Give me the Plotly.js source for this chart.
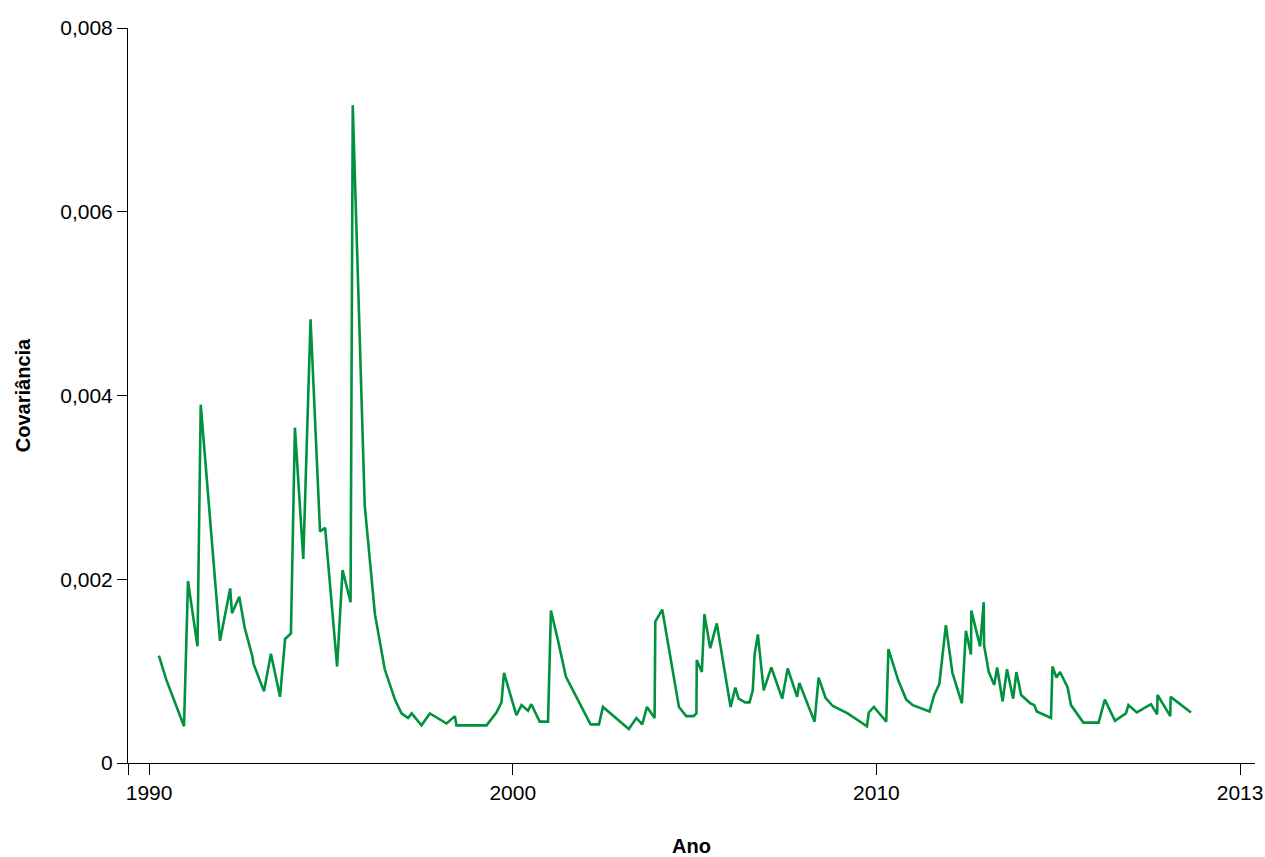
<!DOCTYPE html>
<html>
<head>
<meta charset="utf-8">
<script src="https://cdn.plot.ly/plotly-3.0.1.min.js"></script>
<style>
  html, body { margin: 0; padding: 0; background: #fff; }
  #chart { width: 1265px; height: 857px; }
</style>
</head>
<body>
<div id="chart"></div>
<script>
// Decimal year positions (axis is labelled 1990, 2000, 2010, 2013 at equal spacing)
const anos = [
  1990.27, 1990.47, 1990.96, 1991.07, 1991.33, 1991.42, 1991.95, 1992.23, 1992.28, 1992.48,
  1992.63, 1992.84, 1992.87, 1993.16, 1993.35, 1993.60, 1993.74, 1993.90, 1994.01, 1994.24,
  1994.44, 1994.70, 1994.84, 1995.17, 1995.32, 1995.54, 1995.60, 1995.93, 1996.21, 1996.48,
  1996.76, 1996.94, 1997.12, 1997.22, 1997.49, 1997.72, 1998.18, 1998.41, 1998.45, 1999.28,
  1999.55, 1999.69, 1999.76, 2000.10, 2000.24, 2000.42, 2000.51, 2000.74, 2000.97, 2001.05,
  2001.24, 2001.46, 2002.14, 2002.37, 2002.48, 2003.19, 2003.40, 2003.56, 2003.69, 2003.90,
  2003.92, 2004.11, 2004.57, 2004.77, 2004.97, 2005.05, 2005.06, 2005.20, 2005.27, 2005.43,
  2005.61, 2005.99, 2006.12, 2006.21, 2006.39, 2006.51, 2006.60, 2006.65, 2006.74, 2006.90,
  2007.11, 2007.41, 2007.56, 2007.82, 2007.88, 2008.30, 2008.41, 2008.60, 2008.80, 2009.21,
  2009.74, 2009.79, 2009.93, 2010.27, 2010.33, 2010.60, 2010.82, 2011.00, 2011.46, 2011.59,
  2011.73, 2011.91, 2012.09, 2012.23, 2012.35, 2012.46, 2012.60, 2012.61, 2012.85, 2012.95,
  2012.96, 2013.09, 2013.24, 2013.32, 2013.47, 2013.59, 2013.76, 2013.85, 2013.98, 2014.23,
  2014.34, 2014.41, 2014.80, 2014.84, 2014.95, 2015.05, 2015.26, 2015.35, 2015.69, 2016.11,
  2016.28, 2016.56, 2016.86, 2016.93, 2017.16, 2017.55, 2017.72, 2017.73, 2018.08, 2018.09,
  2018.65
];

const covariancia = [
  0.00117, 0.00091, 0.00040, 0.00198, 0.00127, 0.00390, 0.00133, 0.00190, 0.00163, 0.00181,
  0.00147, 0.00116, 0.00108, 0.00078, 0.00119, 0.00072, 0.00135, 0.00141, 0.00365, 0.00222,
  0.00483, 0.00252, 0.00256, 0.00105, 0.00210, 0.00175, 0.00716, 0.00280, 0.00162, 0.00102,
  0.00069, 0.00054, 0.00049, 0.00054, 0.00041, 0.00054, 0.00043, 0.00051, 0.00041, 0.00041,
  0.00055, 0.00066, 0.00098, 0.00052, 0.00063, 0.00057, 0.00064, 0.00045, 0.00045, 0.00166,
  0.00134, 0.00094, 0.00042, 0.00042, 0.00061, 0.00037, 0.00049, 0.00042, 0.00061, 0.00049,
  0.00154, 0.00167, 0.00061, 0.00051, 0.00051, 0.00054, 0.00112, 0.00099, 0.00162, 0.00125,
  0.00152, 0.00061, 0.00082, 0.00070, 0.00066, 0.00066, 0.00079, 0.00118, 0.00140, 0.00079,
  0.00104, 0.00070, 0.00103, 0.00072, 0.00087, 0.00045, 0.00093, 0.00071, 0.00062, 0.00054,
  0.00040, 0.00055, 0.00061, 0.00045, 0.00124, 0.00090, 0.00069, 0.00063, 0.00056, 0.00074,
  0.00086, 0.00150, 0.00098, 0.00079, 0.00065, 0.00144, 0.00118, 0.00166, 0.00127, 0.00175,
  0.00128, 0.00099, 0.00085, 0.00104, 0.00067, 0.00102, 0.00070, 0.00099, 0.00074, 0.00065,
  0.00063, 0.00056, 0.00049, 0.00105, 0.00093, 0.00099, 0.00082, 0.00063, 0.00044, 0.00044,
  0.00069, 0.00046, 0.00054, 0.00063, 0.00055, 0.00064, 0.00053, 0.00074, 0.00051, 0.00072,
  0.00055
];

const xTickVals = [1989.425, 1990, 2000, 2010, 2020];
const xTickText = ['', '1990', '2000', '2010', '2013'];
const yTickVals = [0, 0.002, 0.004, 0.006, 0.008];
const yTickText = ['0', '0,002', '0,004', '0,006', '0,008'];

const FONT = 'Liberation Sans, Arial, Helvetica, sans-serif';

const trace = {
  x: anos,
  y: covariancia,
  type: 'scatter',
  mode: 'lines',
  line: { color: '#00923f', width: 2.6 },
  hoverinfo: 'x+y'
};

const layout = {
  width: 1265,
  height: 857,
  margin: { l: 128, r: 10, t: 28, b: 94 },
  paper_bgcolor: '#ffffff',
  plot_bgcolor: '#ffffff',
  showlegend: false,
  font: { family: FONT, size: 21, color: '#000000' },
  xaxis: {
    range: [1989.42, 2020.41],
    tickmode: 'array',
    tickvals: xTickVals,
    ticktext: xTickText,
    ticks: 'outside',
    ticklen: 11,
    tickwidth: 1,
    tickcolor: '#000',
    showline: true,
    linecolor: '#000',
    linewidth: 1,
    showgrid: false,
    zeroline: false,
    automargin: false,
    tickfont: { family: FONT, size: 21, color: '#000' },
    title: { text: '<b>Ano</b>', font: { family: FONT, size: 20, color: '#000' }, standoff: 39 }
  },
  yaxis: {
    range: [0, 0.008],
    tickmode: 'array',
    tickvals: yTickVals,
    ticktext: yTickText,
    ticks: 'outside',
    ticklen: 10,
    tickwidth: 1,
    tickcolor: '#000',
    showline: true,
    linecolor: '#000',
    linewidth: 1,
    showgrid: false,
    zeroline: false,
    automargin: false,
    tickfont: { family: FONT, size: 21, color: '#000' },
    title: { text: '<b>Covariância</b>', font: { family: FONT, size: 20, color: '#000' }, standoff: 24 }
  }
};

Plotly.newPlot('chart', [trace], layout, { displayModeBar: false, staticPlot: true });
</script>
</body>
</html>
